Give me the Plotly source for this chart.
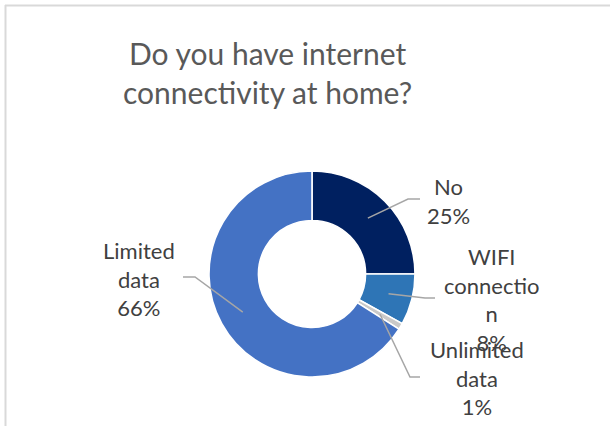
import math
import plotly.graph_objects as go

# Survey answers
categories = ["No", "WIFI connection", "Unlimited data", "Limited data"]
shares = [25, 8, 1, 66]
colors = ["#002060", "#2E75B6", "#C9C9C9", "#4472C4"]
title_lines = ["Do you have internet", "connectivity at home?"]

W, H = 610, 426
CX, CY, R_OUT = 312, 274, 103
HOLE = 0.52
R_LEADER = 79


def px(x):
    return x / W


def py(y):
    return 1 - y / H


def wrap(label, width=9):
    """Word wrap; a word longer than the width is split across lines."""
    lines, cur = [], ""
    for word in label.split():
        cand = f"{cur} {word}" if cur else word
        if len(cand) <= width:
            cur = cand
            continue
        if cur:
            lines.append(cur)
        while len(word) > width:
            lines.append(word[:width])
            word = word[width:]
        cur = word
    if cur:
        lines.append(cur)
    return "<br>".join(lines)


# Label anchors (center x, center y) and leader elbow / end points, in pixels
label_pos = [(449, 201), (491, 299), (477, 378), (139, 279)]
leader_pts = [((408, 199), (420, 199)),
              ((425, 298), (435, 298)),
              ((410, 377), (420, 377)),
              ((195, 277), (183, 277))]

fig = go.Figure(go.Pie(
    labels=categories,
    values=shares,
    sort=False,
    direction="clockwise",
    rotation=0,
    hole=HOLE,
    marker=dict(colors=colors, line=dict(color="white", width=1.6)),
    textinfo="none",
    hoverinfo="label+percent",
    showlegend=False,
    domain=dict(x=[px(CX - R_OUT), px(CX + R_OUT)],
                y=[py(CY + R_OUT), py(CY - R_OUT)]),
))

annotations = [dict(
    text="<br>".join(title_lines), x=px(267), y=py(72), xref="paper", yref="paper",
    showarrow=False, xanchor="center", yanchor="middle",
    font=dict(family="Lato", size=30, color="#595959"),
)]
shapes = []
total = sum(shares)
cum = 0
for i, (cat, v) in enumerate(zip(categories, shares)):
    mid = (cum + v / 2) / total * 2 * math.pi
    cum += v
    sx = CX + R_LEADER * math.sin(mid)
    sy = CY - R_LEADER * math.cos(mid)
    (ex, ey), (fx, fy) = leader_pts[i]
    shapes.append(dict(
        type="path", xref="paper", yref="paper",
        path=f"M {px(sx)},{py(sy)} L {px(ex)},{py(ey)} L {px(fx)},{py(fy)}",
        line=dict(color="#A6A6A6", width=1.5),
    ))
    lx, ly = label_pos[i]
    annotations.append(dict(
        text=f"{wrap(cat)}<br>{v}%", x=px(lx), y=py(ly),
        xref="paper", yref="paper", showarrow=False,
        xanchor="center", yanchor="middle", align="center",
        font=dict(family="Lato", size=22, color="#404040"),
    ))

# Chart frame
shapes.append(dict(type="line", xref="paper", yref="paper",
                   x0=px(5), x1=1, y0=py(5.5), y1=py(5.5),
                   line=dict(color="#D9D9D9", width=2)))
shapes.append(dict(type="line", xref="paper", yref="paper",
                   x0=px(5.5), x1=px(5.5), y0=py(5), y1=0,
                   line=dict(color="#D9D9D9", width=2)))

fig.update_layout(
    width=W, height=H,
    margin=dict(l=0, r=0, t=0, b=0),
    paper_bgcolor="white",
    plot_bgcolor="white",
    annotations=annotations,
    shapes=shapes,
)

fig.write_html("out.html")
